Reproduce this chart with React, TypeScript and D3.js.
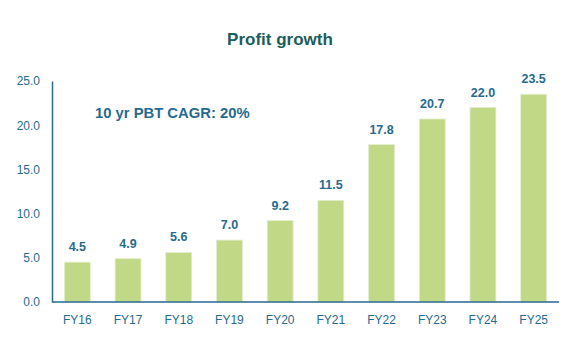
import React, { useRef, useEffect } from "react";
import { select, scaleBand, scaleLinear, axisLeft } from "d3";

const years = ["FY16", "FY17", "FY18", "FY19", "FY20", "FY21", "FY22", "FY23", "FY24", "FY25"];
const profits = [4.5, 4.9, 5.6, 7.0, 9.2, 11.5, 17.8, 20.7, 22.0, 23.5];
const yTicks = [0, 5, 10, 15, 20, 25];

const W = 586;
const H = 350;
const margin = { left: 52, right: 27, top: 81, bottom: 48 };
const blue = "#276a90";
const font = "'Liberation Sans', Arial, sans-serif";

function ProfitChart() {
  const svgRef = useRef<SVGSVGElement>(null);

  useEffect(() => {
    const svg = select(svgRef.current);
    svg.selectAll("*").remove();

    const x = scaleBand()
      .domain(years)
      .range([margin.left, W - margin.right])
      .paddingInner(0.49)
      .paddingOuter(0.245);

    const y = scaleLinear()
      .domain([0, 25])
      .range([H - margin.bottom, margin.top]);

    const data = years.map((year, i) => ({ year, value: profits[i] }));

    svg
      .append("text")
      .attr("x", 280)
      .attr("y", 45)
      .attr("text-anchor", "middle")
      .attr("font-family", font)
      .attr("font-weight", "bold")
      .attr("font-size", 17)
      .attr("fill", "#1b5e5c")
      .text("Profit growth");

    svg
      .selectAll(".bar")
      .data(data)
      .join("rect")
      .attr("class", "bar")
      .attr("x", (d) => x(d.year)!)
      .attr("y", (d) => y(d.value))
      .attr("width", x.bandwidth())
      .attr("height", (d) => y(0) - y(d.value))
      .attr("fill", "#c1d886")
      .attr("stroke", "#e3edc9")
      .attr("stroke-width", 0.8);

    svg
      .selectAll(".label")
      .data(data)
      .join("text")
      .attr("class", "label")
      .attr("x", (d) => x(d.year)! + x.bandwidth() / 2)
      .attr("y", (d) => y(d.value) - 11)
      .attr("text-anchor", "middle")
      .attr("font-family", font)
      .attr("font-weight", "bold")
      .attr("font-size", 12.5)
      .attr("fill", blue)
      .text((d) => d.value.toFixed(1));

    svg
      .selectAll(".xlabel")
      .data(data)
      .join("text")
      .attr("class", "xlabel")
      .attr("x", (d) => x(d.year)! + x.bandwidth() / 2)
      .attr("y", 324)
      .attr("text-anchor", "middle")
      .attr("font-family", font)
      .attr("font-size", 12)
      .attr("fill", blue)
      .text((d) => d.year);

    const yAxis = svg
      .append("g")
      .attr("transform", `translate(${margin.left},0)`)
      .call(
        axisLeft(y)
          .tickValues(yTicks)
          .tickSize(0)
          .tickPadding(12)
          .tickFormat((d) => (d as number).toFixed(1))
      );
    yAxis.select(".domain").attr("stroke", blue).attr("stroke-width", 1.5);
    yAxis
      .selectAll("text")
      .attr("font-family", font)
      .attr("font-size", 12)
      .attr("fill", blue);

    svg
      .append("line")
      .attr("x1", margin.left)
      .attr("x2", W - margin.right)
      .attr("y1", y(0))
      .attr("y2", y(0))
      .attr("stroke", blue)
      .attr("stroke-width", 1.5);

    svg
      .append("text")
      .attr("x", 95)
      .attr("y", 118)
      .attr("font-family", font)
      .attr("font-weight", "bold")
      .attr("font-size", 14.8)
      .attr("fill", blue)
      .text("10 yr PBT CAGR: 20%");
  }, []);

  return <svg ref={svgRef} width={W} height={H} style={{ display: "block" }} />;
}

export default function App() {
  return (
    <div style={{ margin: -8, background: "#fff" }}>
      <ProfitChart />
    </div>
  );
}
